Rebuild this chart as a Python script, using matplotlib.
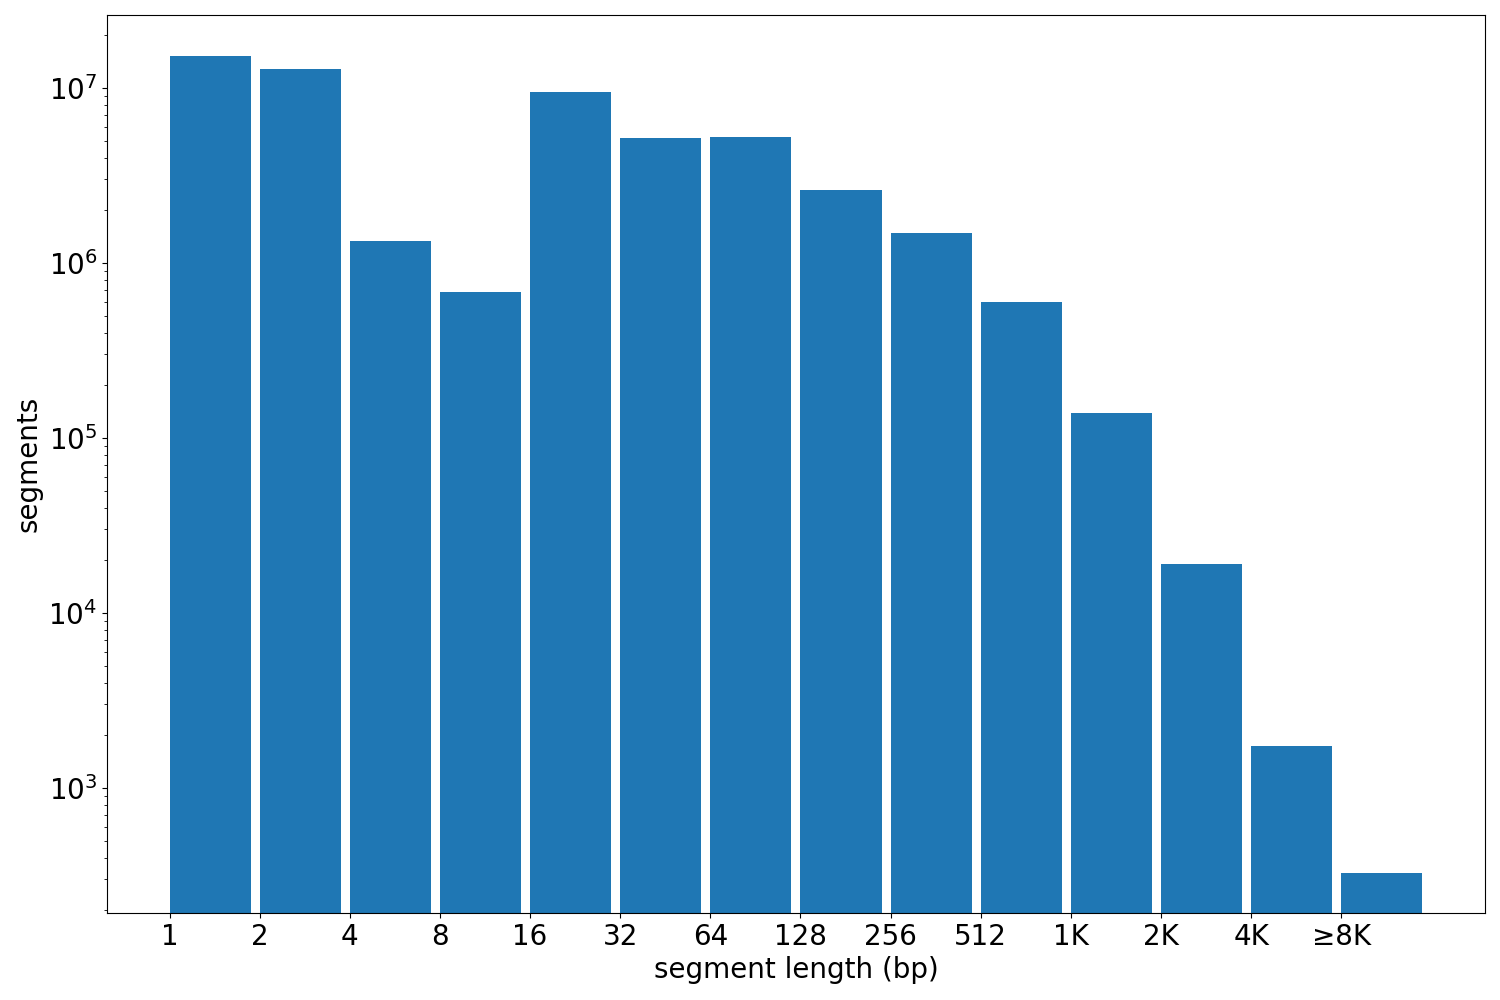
import matplotlib
matplotlib.use('Agg')
import matplotlib.pyplot as plt
import numpy as np

# segment length bins and counts
length_labels = ['1', '2', '4', '8', '16', '32', '64', '128', '256', '512',
                 '1K', '2K', '4K', '\u22658K']
segment_counts = [1.52e7, 1.28e7, 1.34e6, 6.8e5, 9.5e6, 5.18e6, 5.25e6,
                  2.61e6, 1.48e6, 5.98e5, 1.39e5, 1.9e4, 1.74e3, 327]

plt.rcParams['font.size'] = 20

fig, ax = plt.subplots(figsize=(15, 10), dpi=100)
x = np.arange(len(length_labels))
ax.bar(x, segment_counts, width=0.9, align='edge', color='#1f77b4')
ax.set_yscale('log')
ax.set_ylim(193, 2.61e7)
ax.set_xticks(x)
ax.set_xticklabels(length_labels)
ax.set_xlabel('segment length (bp)')
ax.set_ylabel('segments')
fig.subplots_adjust(left=0.0713, right=0.99, top=0.985, bottom=0.087)
fig.savefig('out.png')
